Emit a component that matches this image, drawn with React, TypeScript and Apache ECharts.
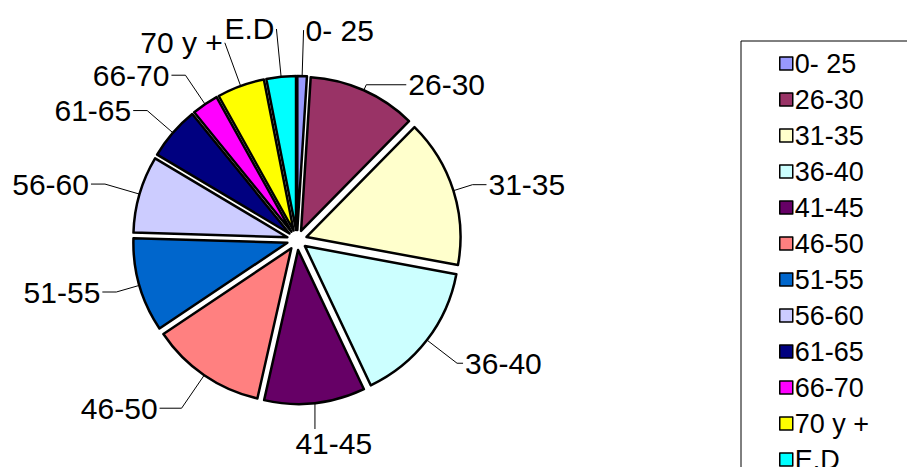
import React, { useEffect, useRef } from "react";
import * as echarts from "echarts";

// Age groups and their share of the total (percent)
const categories = [
  "0- 25", "26-30", "31-35", "36-40", "41-45", "46-50",
  "51-55", "56-60", "61-65", "66-70", "70 y +", "E.D",
];
const shares = [1.0, 11.4, 15.6, 15.1, 10.6, 12.1, 9.9, 8.1, 5.6, 2.8, 5.0, 3.1];
const sliceColors = [
  "#9999FF", "#993366", "#FFFFCC", "#CCFFFF", "#660066", "#FF8080",
  "#0066CC", "#CCCCFF", "#000080", "#FF00FF", "#FFFF00", "#00FFFF",
];
// Leader line segments per slice (radial part, then horizontal tail),
// so the crowded labels fan out around the pie
const leaderLengths = [46, 6, 20, 38, 26, 40, 24, 36, 34, 35, 46, 48];
const leaderTails = [0, 40, 14, 6, 14, 22, 14, 14, 14, 14, 0, 0];

const FONT = "'Liberation Sans', Arial, sans-serif";
const CENTER: [number, number] = [297, 240];

export default function App() {
  const ref = useRef<HTMLDivElement>(null);

  useEffect(() => {
    if (!ref.current) return;
    const chart = echarts.init(ref.current, undefined, { renderer: "svg" });
    const data = categories.map((name, i) => ({
      name,
      value: shares[i],
      selected: true,
      itemStyle: { color: sliceColors[i] },
      labelLine: { length: leaderLengths[i], length2: leaderTails[i] },
    }));
    chart.setOption({
      animation: false,
      backgroundColor: "#ffffff",
      graphic: [
        {
          type: "rect",
          shape: { x: 741, y: 41, width: 300, height: 600 },
          style: { fill: "#ffffff", stroke: "#000000", lineWidth: 1 },
          z: 0,
        },
      ],
      legend: {
        orient: "vertical",
        left: 774,
        top: 45,
        icon: "rect",
        itemWidth: 13,
        itemHeight: 13,
        itemGap: 9,
        selectedMode: false,
        data: categories,
        itemStyle: { borderColor: "#000000", borderWidth: 1.5 },
        textStyle: {
          fontFamily: FONT,
          fontSize: 27,
          lineHeight: 27,
          color: "#000000",
          padding: [0, 0, 0, -3],
        },
        z: 5,
      },
      series: [
        {
          type: "pie",
          center: CENTER,
          radius: 154,
          startAngle: 90,
          clockwise: true,
          selectedMode: "multiple",
          selectedOffset: 10,
          avoidLabelOverlap: false,
          itemStyle: { borderColor: "#000000", borderWidth: 2.5 },
          label: {
            show: true,
            position: "outside",
            fontFamily: FONT,
            fontSize: 30,
            color: "#000000",
            distanceToLabelLine: 2,
          },
          labelLine: {
            show: true,
            smooth: false,
            lineStyle: { color: "#000000", width: 1 },
          },
          // a label that hangs below the pie gets a straight vertical leader
          labelLayout: (params: any) => {
            const pts = params.labelLinePoints;
            if (!pts || !pts.length) return {};
            const p0 = pts[0];
            const dx = p0[0] - CENTER[0];
            const dy = p0[1] - CENTER[1];
            if (dy > 0 && Math.abs(dx) < dy * 0.2) {
              const len = leaderLengths[params.dataIndex];
              return {
                x: p0[0],
                y: p0[1] + len + 2,
                align: "center",
                verticalAlign: "top",
                labelLinePoints: [
                  [p0[0], p0[1]],
                  [p0[0], p0[1] + len / 2],
                  [p0[0], p0[1] + len],
                ],
              };
            }
            return {};
          },
          emphasis: { disabled: true },
          data,
        },
      ],
    });
    return () => chart.dispose();
  }, []);

  return (
    <div
      ref={ref}
      style={{ position: "fixed", left: 0, top: 0, width: 907, height: 560 }}
    />
  );
}
